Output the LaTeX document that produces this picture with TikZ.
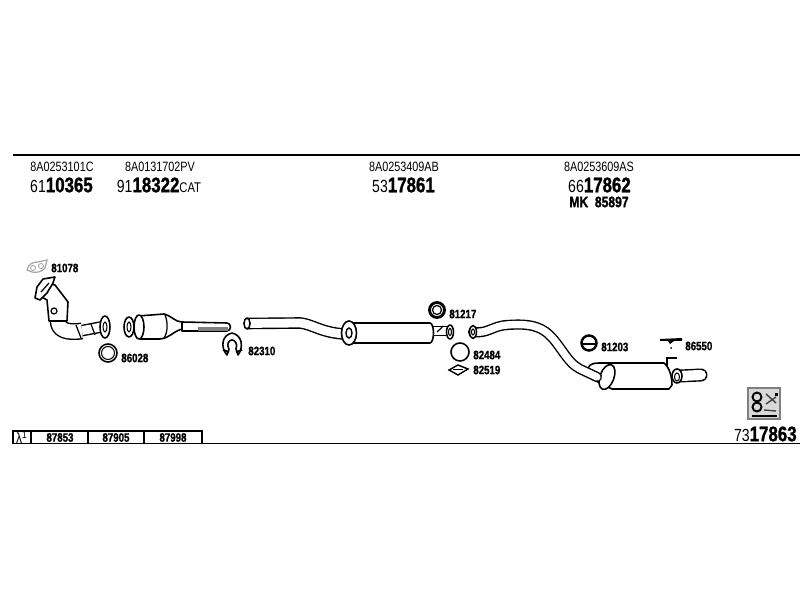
\documentclass[tikz,border=0pt]{standalone}
\usepackage{fontspec}
\setmainfont[FakeStretch=0.8, BoldFeatures={FakeStretch=0.8, FakeBold=1.2}]{Liberation Sans}
\tikzset{
    code/.style={font=\fontsize{7.7}{8}\selectfont, inner sep=0pt},
    part/.style={font=\fontsize{10}{11}\selectfont, inner sep=0pt},
    label/.style={font=\fontsize{6.9}{8}\selectfont\bfseries, inner sep=0pt, anchor=west},
    tube/.style={line width=0.8pt, double=white, double distance=#1, line join=round},
    tube/.default=5pt,
    body/.style={draw=black, fill=white, line width=0.9pt, line join=round}
}
\newcommand{\bignum}[1]{{\fontsize{12}{13}\selectfont\bfseries #1}}

\begin{document}
\begin{tikzpicture}[x=0.2mm, y=-0.2mm]
    \useasboundingbox (0,0) rectangle (800,600);

    % Rules
    \draw[line width=0.85pt] (13,155) -- (800,155);
    \draw[line width=0.85pt] (13,443.5) -- (800,443.5);

    % Numbers on top
    \node[code] (oemA) at (62,167) {8A0253101C};
    \node[part] (numA) at (61.5,185) {61\bignum{10365}};
    \node[code] (oemB) at (160,167) {8A0131702PV};
    \node[part] (numB) at (159,185) {91\bignum{18322}{\fontsize{8}{9}\selectfont CAT}};
    \node[code] (oemC) at (404,167) {8A0253409AB};
    \node[part] (numC) at (403.5,185) {53\bignum{17861}};
    \node[code] (oemD) at (599,167) {8A0253609AS};
    \node[part] (numD) at (599.5,185) {66\bignum{17862}};
    \node[part, font=\fontsize{8.6}{9}\selectfont\bfseries] (mkD) at (599,202) {MK\ \ 85897};

    % Gasket
    \draw[gray!70, line width=0.7pt] (27,270) .. controls (28,264) and (33,262) .. (38,262)
        -- (47,260) -- (45,268) .. controls (42,272) and (36,273) .. (32,272) -- cycle;
    \draw[gray!70, line width=0.5pt] (33,268) circle (2.5) (41,266) circle (2.5);
    \node[label] (lblGasket) at (51,268) {81078};

    % Front pipe
    \draw[tube=5pt] (80,331) -- (101,327);
    \draw[tube=8pt] (58,320) .. controls (58,330) and (66,333) .. (82,331);
    \draw[body] (47,283) -- (55,285) -- (68,302) -- (67,321) -- (49,321) -- (47,300) -- (40,296) -- cycle;
    \draw[body] (35,298) -- (37,287) -- (43,279) -- (55,277) -- (53,283) -- (47,293) -- (40,300) -- cycle;
    \draw[line width=0.7pt] (41,292) -- (49,283);
    \draw[line width=0.7pt] (54,311) circle (3);
    \draw[line width=0.7pt] (76,325) -- (81,338);
    \draw[line width=0.7pt] (91,324) -- (95,335);
    \draw[body] (105,327) ellipse (5 and 11);
    \draw[line width=0.6pt] (105,327) ellipse (2 and 5);

    % Ring
    \draw[line width=0.9pt] (108,353) circle (9);
    \draw[line width=0.6pt] (108,353) circle (6.5);
    \node[label] (lblRing) at (121,358) {86028};

    % Catalyst
    \draw[body] (138,316) -- (164,314) .. controls (172,316) and (175,322) .. (182,322)
        -- (182,329) .. controls (172,332) and (170,338) .. (160,339) -- (140,339) -- cycle;
    \draw[line width=0.7pt] (165,315) .. controls (168,322) and (168,332) .. (164,338);
    \draw[body] (182,322) -- (227,323) arc (-90:90:3.5 and 4) -- (182,331) -- cycle;
    \draw[gray, line width=2.3pt] (198,329) -- (228,329);
    \draw[body] (139,327) ellipse (5 and 12);
    \draw[body] (129,327) ellipse (5 and 10);
    \draw[line width=0.6pt] (129,327) ellipse (2 and 5);

    % Clamp
    \draw[body] (227,355) .. controls (220,347) and (222,335) .. (232,333)
        .. controls (242,335) and (244,347) .. (238,355) -- (236,349)
        .. controls (238,344) and (235,340) .. (232,340)
        .. controls (229,340) and (226,344) .. (229,349) -- cycle;
    \draw[line width=1pt] (223,350) -- (229,352) (242,350) -- (236,352);
    \node[label] (lblClamp) at (248,351) {82310};

    % Middle pipe and muffler
    \draw[tube] (247,323.5) -- (300,323) .. controls (312,324) and (322,333) .. (345,334);
    \draw[body] (247,323.5) ellipse (3 and 5.5);
    \draw[tube=4pt] (432,331) -- (448,331);
    \draw[body] (353,323) -- (430,323) arc (-90:90:3.5 and 10) -- (353,343) -- cycle;
    \draw[body] (349,333) ellipse (7.5 and 12);
    \draw[line width=0.8pt] (349,333) ellipse (3 and 5);
    \draw[line width=0.7pt] (437,332) .. controls (440,329) and (442,328) .. (443,326);
    \draw[body] (450,332) ellipse (3.5 and 7);
    \draw[line width=0.6pt] (450,332) ellipse (1.5 and 3.5);

    % Rings in the middle
    \draw[line width=1.6pt] (437,310) circle (7.5);
    \draw[line width=0.7pt] (437,310) circle (4.5);
    \node[label] (lblRingB) at (449,314) {81217};
    \draw[line width=0.9pt] (460,352) circle (9);
    \node[label] (lblRingC) at (473,355) {82484};
    \draw[line width=0.8pt] (449,370) -- (458,365) -- (468,369) -- (458,375) -- cycle;
    \draw[line width=0.5pt] (453,369) -- (463,369);
    \node[label] (lblGasketB) at (473,370) {82519};

    % Rear muffler
    \draw[line width=0.9pt] (667,372) -- (667,358) -- (677,358);
    \draw[tube=5.8pt, line cap=round] (680,376) -- (701,375);
    \draw[body] (588,368) .. controls (590,363) and (596,363) .. (600,363) -- (664,363)
        .. controls (670,368) and (672,378) .. (672,385) -- (669,389) -- (612,389) -- (590,378) -- cycle;
    \draw[body, rotate around={-20:(607,377)}] (607,377) ellipse (7 and 13);
    \draw[body] (677,376) ellipse (5 and 7);
    \draw[line width=0.6pt] (677,377) ellipse (2.5 and 4);

    % Rear pipe
    \draw[tube=4.2pt, line cap=round] (473,332) .. controls (488,334) and (492,326) .. (507,325)
        .. controls (522,324) and (535,324) .. (546,332) .. controls (560,343) and (566,362) .. (580,369)
        -- (597,377);
    \draw[body] (473,332) ellipse (3.5 and 6.5);
    \draw[line width=0.6pt] (473,332) ellipse (1.5 and 3);

    % Rubber ring
    \draw[line width=1.4pt] (589,343) circle (7.5);
    \fill (581,343) rectangle (597,345);
    \node[label] (lblRingD) at (601,347) {81203};

    % Hanger
    \fill (660,339) -- (682,338) -- (682,341) -- (674,341) -- (670,344) -- (668,341) -- (660,341) -- cycle;
    \fill (671,348) circle (1);
    \node[label] (lblHanger) at (685,346) {86550};

    % Mounting icon
    \draw[fill=gray!30, draw=gray, line width=0.6pt] (748,388) rectangle (780,419);
    \draw[line width=1.1pt] (757,397) circle (4.5);
    \draw[line width=1.1pt] (757,407) circle (4.5);
    \draw[gray!50!black, line width=0.8pt] (766,394) -- (776,403) (766,404) -- (776,397) (764,410) -- (776,411);
    \fill (775,393) rectangle (778,396);
    \draw[line width=0.8pt] (752,416) -- (777,416);

    % Kit number
    \node[part, anchor=east] (numKit) at (797,434) {73\bignum{17863}};

    % Table of probes
    \draw[line width=0.8pt] (13,431) rectangle (202,443.5);
    \draw[line width=0.6pt] (31,431) -- (31,443.5) (88,431) -- (88,443.5) (144,431) -- (144,443.5);
    \node[font=\fontsize{8.5}{9}\selectfont, inner sep=0pt] (lam) at (22,437.5) {λ\textsuperscript{1}};
    \node[label, anchor=center] (lamA) at (60,437.5) {87853};
    \node[label, anchor=center] (lamB) at (116,437.5) {87905};
    \node[label, anchor=center] (lamC) at (173,437.5) {87998};
\end{tikzpicture}
\end{document}
